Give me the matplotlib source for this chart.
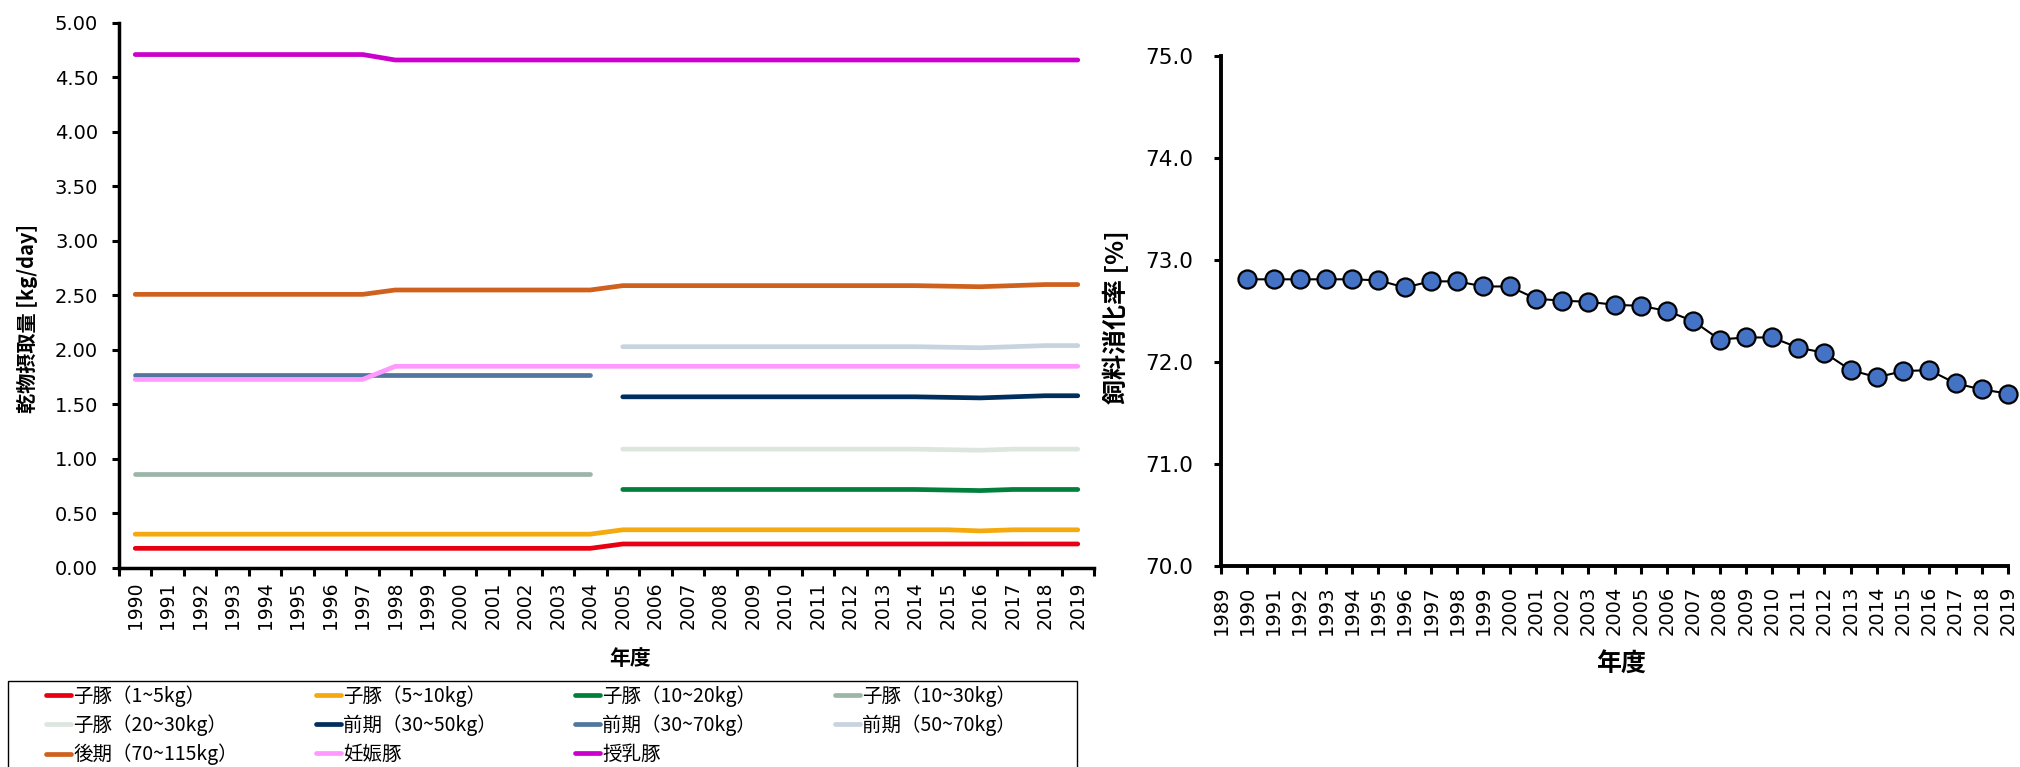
#------------------------------------------------------------------------------------------------------------------
#   Dry matter intake by pig class (left) and feed digestibility (right)
#------------------------------------------------------------------------------------------------------------------

import numpy as np
import matplotlib
matplotlib.use('Agg')
import matplotlib.pyplot as plt
from matplotlib.patches import Rectangle
from matplotlib.ticker import FormatStrFormatter, FixedLocator

plt.rcParams['font.family'] = ['Noto Sans CJK JP', 'DejaVu Sans']

#------------------------------------------------------------------------------------------------------------------
#   Data
#------------------------------------------------------------------------------------------------------------------
nan = np.nan

years = [str(y) for y in range(1990, 2020)]

piglet_1_5 = [0.18, 0.18, 0.18, 0.18, 0.18, 0.18, 0.18, 0.18, 0.18, 0.18, 0.18, 0.18, 0.18, 0.18, 0.18,
              0.22, 0.22, 0.22, 0.22, 0.22, 0.22, 0.22, 0.22, 0.22, 0.22, 0.22, 0.22, 0.22, 0.22, 0.22]
piglet_5_10 = [0.31, 0.31, 0.31, 0.31, 0.31, 0.31, 0.31, 0.31, 0.31, 0.31, 0.31, 0.31, 0.31, 0.31, 0.31,
               0.35, 0.35, 0.35, 0.35, 0.35, 0.35, 0.35, 0.35, 0.35, 0.35, 0.35, 0.34, 0.35, 0.35, 0.35]
piglet_10_20 = [nan, nan, nan, nan, nan, nan, nan, nan, nan, nan, nan, nan, nan, nan, nan,
                0.72, 0.72, 0.72, 0.72, 0.72, 0.72, 0.72, 0.72, 0.72, 0.72, 0.715, 0.71, 0.72, 0.72, 0.72]
piglet_10_30 = [0.86, 0.86, 0.86, 0.86, 0.86, 0.86, 0.86, 0.86, 0.86, 0.86, 0.86, 0.86, 0.86, 0.86, 0.86,
                nan, nan, nan, nan, nan, nan, nan, nan, nan, nan, nan, nan, nan, nan, nan]
piglet_20_30 = [nan, nan, nan, nan, nan, nan, nan, nan, nan, nan, nan, nan, nan, nan, nan,
                1.09, 1.09, 1.09, 1.09, 1.09, 1.09, 1.09, 1.09, 1.09, 1.09, 1.085, 1.08, 1.09, 1.09, 1.09]
early_30_50 = [nan, nan, nan, nan, nan, nan, nan, nan, nan, nan, nan, nan, nan, nan, nan,
               1.57, 1.57, 1.57, 1.57, 1.57, 1.57, 1.57, 1.57, 1.57, 1.57, 1.565, 1.56, 1.57, 1.58, 1.58]
early_30_70 = [1.77, 1.77, 1.77, 1.77, 1.77, 1.77, 1.77, 1.77, 1.77, 1.77, 1.77, 1.77, 1.77, 1.77, 1.77,
               nan, nan, nan, nan, nan, nan, nan, nan, nan, nan, nan, nan, nan, nan, nan]
early_50_70 = [nan, nan, nan, nan, nan, nan, nan, nan, nan, nan, nan, nan, nan, nan, nan,
               2.03, 2.03, 2.03, 2.03, 2.03, 2.03, 2.03, 2.03, 2.03, 2.03, 2.025, 2.02, 2.03, 2.04, 2.04]
late_70_115 = [2.51, 2.51, 2.51, 2.51, 2.51, 2.51, 2.51, 2.51, 2.55, 2.55, 2.55, 2.55, 2.55, 2.55, 2.55,
               2.59, 2.59, 2.59, 2.59, 2.59, 2.59, 2.59, 2.59, 2.59, 2.59, 2.585, 2.58, 2.59, 2.60, 2.60]
pregnant = [1.73, 1.73, 1.73, 1.73, 1.73, 1.73, 1.73, 1.73, 1.85, 1.85, 1.85, 1.85, 1.85, 1.85, 1.85,
            1.85, 1.85, 1.85, 1.85, 1.85, 1.85, 1.85, 1.85, 1.85, 1.85, 1.85, 1.85, 1.85, 1.85, 1.85]
lactating = [4.71, 4.71, 4.71, 4.71, 4.71, 4.71, 4.71, 4.71, 4.66, 4.66, 4.66, 4.66, 4.66, 4.66, 4.66,
             4.66, 4.66, 4.66, 4.66, 4.66, 4.66, 4.66, 4.66, 4.66, 4.66, 4.66, 4.66, 4.66, 4.66, 4.66]

series_labels = ['子豚（1~5kg）', '子豚（5~10kg）', '子豚（10~20kg）', '子豚（10~30kg）',
                 '子豚（20~30kg）', '前期（30~50kg）', '前期（30~70kg）', '前期（50~70kg）',
                 '後期（70~115kg）', '妊娠豚', '授乳豚']
series_values = [piglet_1_5, piglet_5_10, piglet_10_20, piglet_10_30,
                 piglet_20_30, early_30_50, early_30_70, early_50_70,
                 late_70_115, pregnant, lactating]
series_colors = ['#E60012', '#F4A90C', '#00803A', '#9DB5A8',
                 '#DCE6DF', '#002F5E', '#52779E', '#C8D3E0',
                 '#D0601E', '#FF99FF', '#CC00CC']

dig_years = list(range(1990, 2020))
digestibility = [72.81, 72.81, 72.81, 72.81, 72.81, 72.80, 72.73, 72.79, 72.79, 72.74,
                 72.74, 72.62, 72.60, 72.59, 72.56, 72.55, 72.50, 72.40, 72.22, 72.24,
                 72.24, 72.14, 72.09, 71.92, 71.85, 71.91, 71.92, 71.79, 71.73, 71.69]

#------------------------------------------------------------------------------------------------------------------
#   Figure
#------------------------------------------------------------------------------------------------------------------
fig = plt.figure(figsize=(20.2, 7.67), dpi=100)

num_font = 'DejaVu Sans'

#------------------------------------------------------------------------------------------------------------------
#   Left: dry matter intake
#------------------------------------------------------------------------------------------------------------------
ax1 = fig.add_axes([0.0589, 0.2595, 0.4827, 0.7106])
x = np.arange(len(years))

handles = []
for vals, lab, col in zip(series_values, series_labels, series_colors):
    h, = ax1.plot(x, vals, color=col, lw=3.4, label=lab, solid_capstyle='round')
    handles.append(h)

ax1.set_xlim(-0.5, len(years) - 0.5)
ax1.set_ylim(0, 5)
ax1.set_yticks(np.arange(0, 5.01, 0.5))
ax1.yaxis.set_major_formatter(FormatStrFormatter('%.2f'))

# category axis with tick marks between the categories
ax1.xaxis.set_major_locator(FixedLocator(np.arange(-0.5, len(years), 1.0)))
ax1.xaxis.set_minor_locator(FixedLocator(x))
ax1.set_xticklabels([])
ax1.set_xticklabels(years, minor=True, rotation=90, family=num_font, fontsize=13.5)
ax1.tick_params(axis='x', which='major', length=6, width=2.2, direction='out')
ax1.tick_params(axis='x', which='minor', length=0, pad=10)
ax1.tick_params(axis='y', length=5, width=2.2, direction='out', pad=10)
for t in ax1.get_yticklabels():
    t.set_family(num_font)
    t.set_fontsize(14)

for s in ['top', 'right']:
    ax1.spines[s].set_visible(False)
for s in ['left', 'bottom']:
    ax1.spines[s].set_linewidth(2.5)

ax1.set_xlabel('年度', fontsize=15, fontweight='bold', va='center')
ax1.xaxis.set_label_coords(0.524, -0.167)
ax1.set_ylabel('乾物摂取量 [kg/day]', fontsize=14.5, fontweight='bold', va='center')
ax1.yaxis.set_label_coords(-0.094, 0.457)

# legend, filled column by column so it reads row by row
order = [0, 4, 8, 1, 5, 9, 2, 6, 10, 3, 7]
leg = fig.legend([handles[i] for i in order], [series_labels[i] for i in order],
                 ncol=4, loc='upper left', bbox_to_anchor=(0.0228, 0.0, 0.48, 0.1070),
                 mode='expand', fontsize=14, frameon=False,
                 handlelength=1.3, handletextpad=0.1, borderpad=0.0,
                 labelspacing=0.4, borderaxespad=0.0)
fig.add_artist(Rectangle((0.0042, -0.05), 0.529, 0.1621, transform=fig.transFigure,
                         fill=False, edgecolor='black', linewidth=1.0))

#------------------------------------------------------------------------------------------------------------------
#   Right: feed digestibility
#------------------------------------------------------------------------------------------------------------------
ax2 = fig.add_axes([0.6045, 0.2621, 0.3896, 0.665])

ax2.plot(dig_years, digestibility, color='black', lw=1.5, marker='o', markersize=13,
         markerfacecolor='#4472C4', markeredgecolor='black', markeredgewidth=1.6, clip_on=False)

ax2.set_xlim(1989, 2019)
ax2.set_ylim(70, 75)
ax2.set_xticks(np.arange(1989, 2020))
ax2.set_xticklabels([str(y) for y in range(1989, 2020)], rotation=90, family=num_font, fontsize=14)
ax2.set_yticks(np.arange(70, 75.01, 1.0))
ax2.yaxis.set_major_formatter(FormatStrFormatter('%.1f'))
ax2.tick_params(axis='x', length=6, width=2.2, direction='out', pad=8)
ax2.tick_params(axis='y', length=5, width=2.2, direction='out', pad=15)
for t in ax2.get_yticklabels():
    t.set_family(num_font)
    t.set_fontsize(15.5)

for s in ['top', 'right']:
    ax2.spines[s].set_visible(False)
for s in ['left', 'bottom']:
    ax2.spines[s].set_linewidth(2.8)

ax2.set_xlabel('年度', fontsize=18, fontweight='bold', va='center')
ax2.xaxis.set_label_coords(0.508, -0.194)
ax2.set_ylabel('飼料消化率 [%]', fontsize=18, fontweight='bold', va='center')
ax2.yaxis.set_label_coords(-0.133, 0.488)

fig.savefig('out.png', dpi=100)

#------------------------------------------------------------------------------------------------------------------
#   End of file
#------------------------------------------------------------------------------------------------------------------
